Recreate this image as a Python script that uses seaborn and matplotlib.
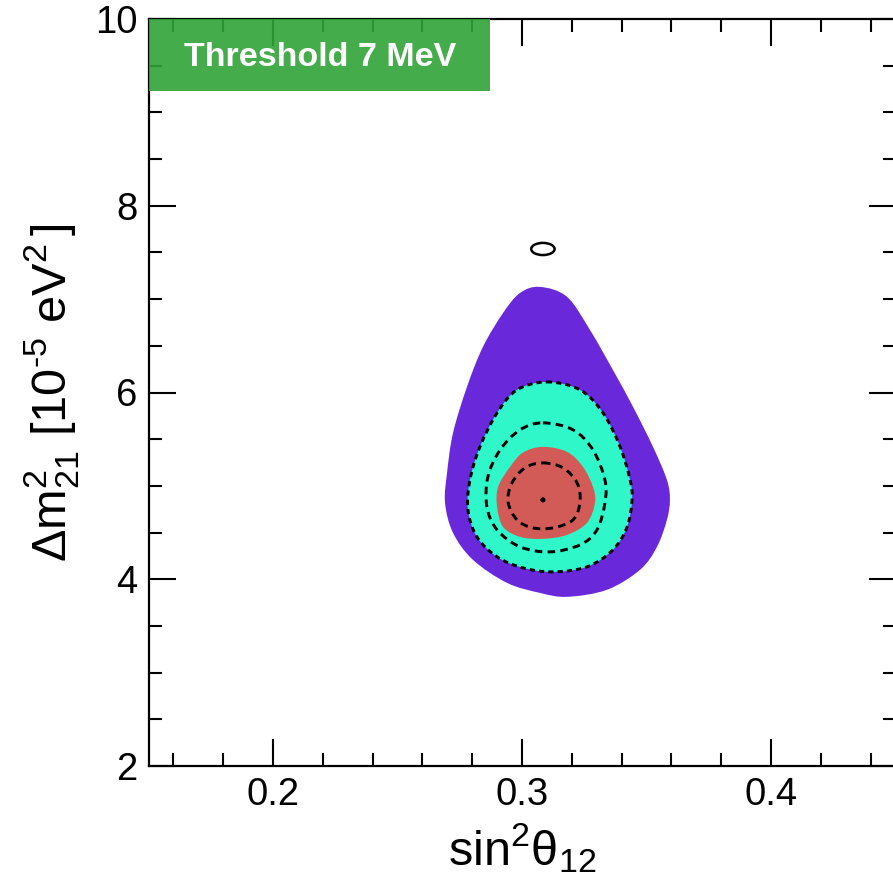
import matplotlib
matplotlib.use("Agg")
import matplotlib.pyplot as plt
import seaborn as sns
import numpy as np
from matplotlib.patches import Rectangle, Ellipse, PathPatch
from matplotlib.path import Path
from matplotlib.ticker import MultipleLocator

# ---- data (sin^2 theta12, Delta m^2_21 [1e-5 eV^2]) ----
# 3 sigma region (purple)
r3_x = [0.3072, 0.3181, 0.3273, 0.3365, 0.3446, 0.3526, 0.3582, 0.3594, 0.3582, 0.3542,
        0.3474, 0.3341, 0.3181, 0.3072, 0.2940, 0.2803, 0.2723, 0.2691, 0.2699, 0.2723,
        0.2779, 0.2843, 0.2924, 0.2992]
r3_y = [7.131, 7.024, 6.670, 6.242, 5.846, 5.418, 5.064, 4.850, 4.636, 4.347,
        4.101, 3.887, 3.812, 3.854, 3.961, 4.208, 4.497, 4.818, 5.139, 5.567,
        6.060, 6.488, 6.852, 7.066]
# 2 sigma region (cyan)
r2_x = [0.3100, 0.3233, 0.3325, 0.3394, 0.3434, 0.3442, 0.3422, 0.3365, 0.3261, 0.3124,
        0.3004, 0.2900, 0.2819, 0.2783, 0.2791, 0.2831, 0.2900, 0.2980]
r2_y = [6.113, 6.028, 5.782, 5.418, 5.064, 4.850, 4.561, 4.315, 4.133, 4.079,
        4.122, 4.240, 4.454, 4.743, 5.064, 5.418, 5.782, 6.028]
# 1 sigma region (red)
r1_x = [0.3084, 0.3181, 0.3245, 0.3285, 0.3293, 0.3261, 0.3181, 0.3084, 0.2992, 0.2924,
        0.2900, 0.2904, 0.2952, 0.3004]
r1_y = [5.418, 5.364, 5.203, 4.989, 4.818, 4.604, 4.475, 4.433, 4.454, 4.561,
        4.775, 4.989, 5.203, 5.357]
# dashed contours (second analysis)
d2_x = [0.3084, 0.3205, 0.3285, 0.3333, 0.3333, 0.3301, 0.3233, 0.3112, 0.2992, 0.2900,
        0.2859, 0.2863, 0.2912, 0.2992]
d2_y = [5.675, 5.600, 5.385, 5.064, 4.818, 4.529, 4.368, 4.293, 4.347, 4.529,
        4.775, 5.096, 5.385, 5.600]
d1_x = [0.3084, 0.3165, 0.3221, 0.3233, 0.3205, 0.3124, 0.3044, 0.2980, 0.2944, 0.2960, 0.3012]
d1_y = [5.246, 5.193, 5.032, 4.829, 4.636, 4.550, 4.550, 4.636, 4.829, 5.032, 5.193]
# best fit point
best_x = [0.3084]
best_y = [4.850]
# small isolated contour (solid)
island_center = (0.3084, 7.537)
island_size = (0.0094, 0.13)

x_ticks = [0.2, 0.3, 0.4]
y_ticks = [2, 4, 6, 8, 10]
label_text = "Threshold 7 MeV"

# ---- style ----
sns.set_style("ticks")
plt.rcParams["font.family"] = ["Liberation Sans", "DejaVu Sans"]
plt.rcParams["mathtext.fontset"] = "custom"
plt.rcParams["mathtext.rm"] = "Liberation Sans"
plt.rcParams["mathtext.it"] = "Liberation Sans:italic"
plt.rcParams["mathtext.bf"] = "Liberation Sans:bold"
plt.rcParams["text.color"] = "black"
plt.rcParams["axes.labelcolor"] = "black"
plt.rcParams["xtick.color"] = "black"
plt.rcParams["ytick.color"] = "black"

fig = plt.figure(figsize=(8.93, 8.89), dpi=100)
ax = fig.add_axes([148.5 / 893, 123 / 889, 747 / 893, 747 / 889])


def smooth_closed_path(xs, ys):
    """Closed curve through the read boundary points (Catmull-Rom as cubic Bezier)."""
    pts = np.column_stack([xs, ys])
    n = len(pts)
    verts = [pts[0]]
    codes = [Path.MOVETO]
    for i in range(n):
        p0, p1, p2, p3 = pts[i - 1], pts[i], pts[(i + 1) % n], pts[(i + 2) % n]
        verts += [p1 + (p2 - p0) / 6.0, p2 - (p3 - p1) / 6.0, p2]
        codes += [Path.CURVE4] * 3
    return Path(verts, codes)


for xs, ys, col, z in [(r3_x, r3_y, "#6a28db", 1.0), (r2_x, r2_y, "#2ff7c9", 1.1),
                       (r1_x, r1_y, "#d35b57", 1.2)]:
    ax.add_patch(PathPatch(smooth_closed_path(xs, ys), facecolor=col, edgecolor="none", zorder=z))

for xs, ys, ls in [(r2_x, r2_y, (0, (1.8, 1.4))), (d2_x, d2_y, (0, (2.6, 1.8))),
                   (d1_x, d1_y, (0, (2.6, 1.8)))]:
    ax.add_patch(PathPatch(smooth_closed_path(xs, ys), fill=False, edgecolor="black",
                           lw=2.1, linestyle=ls, zorder=2))

sns.scatterplot(x=best_x, y=best_y, ax=ax, color="black", s=14, edgecolor="none", zorder=3)

ax.add_patch(Ellipse(island_center, island_size[0], island_size[1], fill=False,
                     edgecolor="black", lw=1.8, zorder=2))

ax.set_xlim(0.15, 0.45)
ax.set_ylim(2, 10)
ax.set_xticks(x_ticks)
ax.set_xticklabels([f"{v:.1f}" for v in x_ticks])
ax.set_yticks(y_ticks)
ax.set_yticklabels([str(v) for v in y_ticks])
ax.xaxis.set_minor_locator(MultipleLocator(0.02))
ax.yaxis.set_minor_locator(MultipleLocator(0.5))
ax.tick_params(which="both", direction="in", top=True, right=True, width=1.5, color="black")
ax.tick_params(which="major", length=19.5, labelsize=27.5, pad=8)
ax.tick_params(which="minor", length=9.5)
for s in ax.spines.values():
    s.set_linewidth(1.6)
    s.set_color("black")

ax.set_xlabel("sin$^{2}$θ$_{12}$", fontsize=35, labelpad=6)
ax.set_ylabel("Δm$^{2}_{21}$ [10$^{\u20105}$ eV$^{2}\\,$]", fontsize=35, labelpad=10)

ax.add_patch(Rectangle((0.15, 9.229), 0.1371, 0.771, facecolor="#31a337", edgecolor="none",
                       alpha=0.9, zorder=3, clip_on=False))
ax.text(0.2189, 9.588, label_text, color="white", fontweight="bold", fontsize=24.5,
        ha="center", va="center", zorder=4)

fig.savefig("out.png", dpi=100)
